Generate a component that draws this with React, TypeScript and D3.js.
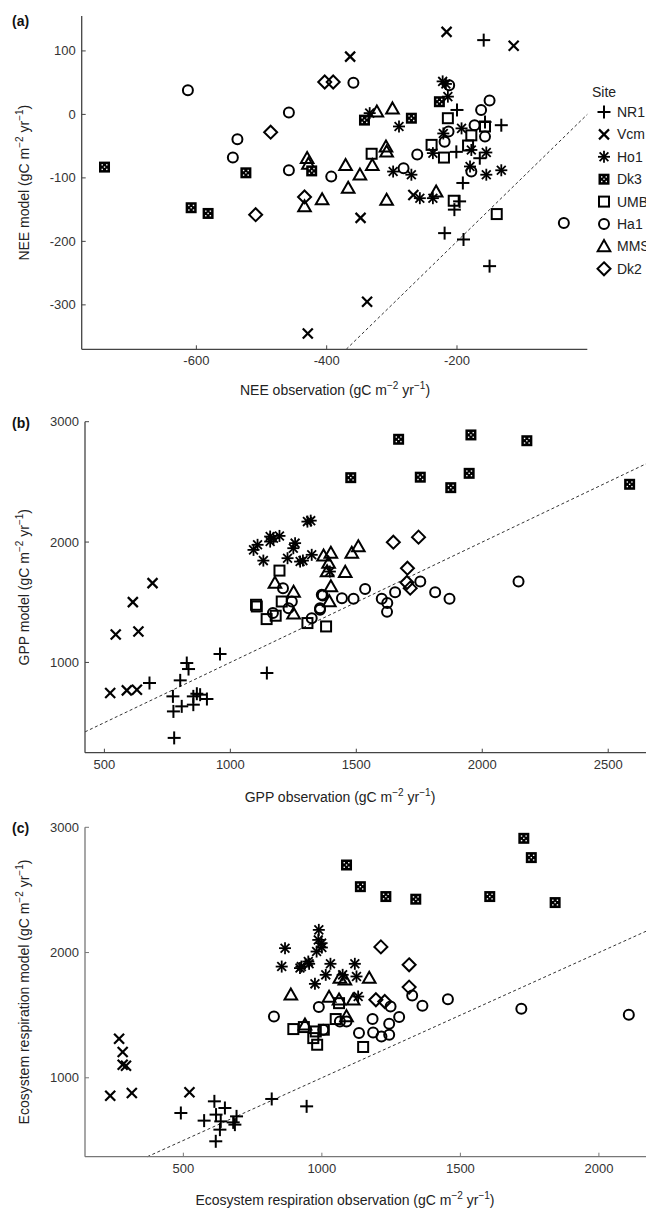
import React from "react";
import * as d3 from "d3";

// ---------- Sites ----------
const sites = ["NR1", "Vcm", "Ho1", "Dk3", "UMB", "Ha1", "MMS", "Dk2"];

// ---------- Panel (a): NEE [observation, model] ----------
const neeNR1 = [[-159, 117], [-132, -17], [-200, 7], [-157, -12], [-201, -59], [-165, -69], [-191, -108], [-196, -137], [-204, -150], [-219, -187], [-190, -197], [-150, -239]];
const neeVcm = [[-216, 130], [-113, 108], [-364, 91], [-348, -163], [-338, -295], [-429, -345], [-267, -127]];
const neeHo1 = [[-222, 52], [-217, 48], [-214, 28], [-334, 2], [-289, -19], [-221, -30], [-193, -22], [-237, -61], [-178, -56], [-155, -60], [-180, -82], [-155, -95], [-132, -88], [-298, -90], [-270, -95], [-257, -132], [-237, -132]];
const neeDk3 = [[-741, -83], [-524, -92], [-423, -89], [-608, -147], [-582, -156], [-342, -9], [-270, -6], [-227, 20]];
const neeUMB = [[-214, -6], [-331, -62], [-239, -48], [-220, -68], [-178, -33], [-157, -19], [-183, -49], [-205, -136], [-139, -157]];
const neeHa1 = [[-613, 38], [-458, 3], [-537, -39], [-544, -68], [-458, -88], [-393, -98], [-359, 50], [-212, 46], [-150, 22], [-163, 7], [-173, -17], [-157, -35], [-219, -43], [-213, -27], [-261, -63], [-282, -85], [-178, -90], [-36, -171]];
const neeMMS = [[-323, 4], [-299, 9], [-309, -51], [-308, -59], [-430, -69], [-428, -78], [-371, -80], [-330, -80], [-349, -95], [-367, -116], [-407, -134], [-434, -145], [-308, -135], [-232, -122]];
const neeDk2 = [[-403, 51], [-390, 51], [-486, -28], [-509, -158], [-434, -130]];

// ---------- Panel (b): GPP ----------
const gppNR1 = [[777, 373], [827, 995], [834, 945], [959, 1070], [679, 829], [801, 851], [772, 718], [774, 593], [807, 635], [853, 649], [867, 740], [880, 732], [907, 696], [853, 718], [1145, 912]];
const gppVcm = [[691, 1659], [613, 1501], [545, 1232], [635, 1257], [523, 746], [589, 768], [629, 773]];
const gppHo1 = [[1092, 1935], [1108, 1977], [1131, 1846], [1158, 2046], [1171, 2032], [1195, 2051], [1158, 2004], [1257, 1991], [1250, 1949], [1227, 1866], [1288, 1846], [1306, 2170], [1319, 2178], [1323, 1894], [1277, 1838], [1395, 1755]];
const gppDk3 = [[1668, 2854], [1955, 2890], [2177, 2842], [1478, 2535], [1754, 2539], [1948, 2571], [1875, 2452], [2585, 2480]];
const gppUMB = [[1195, 1763], [1102, 1479], [1105, 1465], [1204, 1506], [1144, 1360], [1180, 1388], [1306, 1327], [1380, 1299]];
const gppHa1 = [[2144, 1672], [1870, 1529], [1813, 1584], [1754, 1672], [1654, 1584], [1601, 1529], [1623, 1493], [1535, 1611], [1489, 1529], [1443, 1534], [1367, 1556], [1356, 1451], [1622, 1420], [1209, 1617], [1244, 1506], [1363, 1562], [1169, 1410], [1231, 1451], [1323, 1368], [1356, 1437]];
const gppMMS = [[1177, 1659], [1251, 1584], [1370, 1886], [1399, 1908], [1390, 1825], [1384, 1755], [1456, 1750], [1482, 1908], [1508, 1963], [1399, 1631], [1393, 1506], [1251, 1404]];
const gppDk2 = [[1647, 1999], [1747, 2041], [1703, 1783], [1701, 1664], [1714, 1617]];

// ---------- Panel (c): Ecosystem respiration ----------
const reNR1 = [[491, 719], [612, 812], [650, 759], [575, 658], [618, 706], [635, 652], [632, 586], [617, 493], [680, 644], [692, 692], [686, 626], [819, 831], [945, 772]];
const reVcm = [[268, 1312], [281, 1206], [281, 1104], [293, 1096], [236, 857], [314, 879], [522, 884]];
const reHo1 = [[867, 2035], [989, 2181], [987, 2101], [999, 2075], [981, 2008], [951, 1928], [926, 1888], [855, 1888], [921, 1876], [954, 1910], [1031, 1910], [1119, 1910], [975, 1750], [1014, 1822], [1075, 1822], [1125, 1809], [1131, 1649], [1000, 2040]];
const reDk3 = [[1089, 2699], [1139, 2526], [1231, 2447], [1339, 2426], [1606, 2447], [1729, 2912], [1756, 2758], [1842, 2399]];
const reUMB = [[897, 1389], [978, 1370], [969, 1317], [983, 1264], [1007, 1384], [1050, 1469], [1062, 1596], [1149, 1246], [935, 1405]];
const reHa1 = [[827, 1490], [989, 1565], [1005, 1384], [1065, 1450], [1089, 1450], [1134, 1357], [1183, 1469], [1185, 1362], [1215, 1330], [1243, 1344], [1243, 1431], [1248, 1569], [1279, 1485], [1326, 1657], [1363, 1575], [1455, 1628], [1720, 1551], [2108, 1503]];
const reMMS = [[888, 1663], [1171, 1796], [1065, 1796], [1083, 1782], [1026, 1644], [1062, 1623], [939, 1423], [1089, 1490], [1113, 1623]];
const reDk2 = [[1213, 2045], [1315, 1902], [1315, 1724], [1195, 1623], [1227, 1609]];

// ---------- Tick values ----------
const neeXTicks = [-600, -400, -200];
const neeYTicks = [-300, -200, -100, 0, 100];
const gppXTicks = [500, 1000, 1500, 2000, 2500];
const gppYTicks = [1000, 2000, 3000];
const reXTicks = [500, 1000, 1500, 2000];
const reYTicks = [1000, 2000, 3000];

const FONT = "'Liberation Sans', Arial, Helvetica, sans-serif";

function Marker({ site, x, y }: { site: string; x: number; y: number }) {
  const sw = 2;
  switch (site) {
    case "NR1": {
      const a = 6.5;
      return (
        <g stroke="#000" strokeWidth={sw}>
          <line x1={x - a} y1={y} x2={x + a} y2={y} />
          <line x1={x} y1={y - a} x2={x} y2={y + a} />
        </g>
      );
    }
    case "Vcm": {
      const a = 5;
      return (
        <g stroke="#000" strokeWidth={2.2}>
          <line x1={x - a} y1={y - a} x2={x + a} y2={y + a} />
          <line x1={x - a} y1={y + a} x2={x + a} y2={y - a} />
        </g>
      );
    }
    case "Ho1": {
      const a = 6, b = 4.4;
      return (
        <g stroke="#000" strokeWidth={1.8}>
          <line x1={x} y1={y - a} x2={x} y2={y + a} />
          <line x1={x - a} y1={y} x2={x + a} y2={y} />
          <line x1={x - b} y1={y - b} x2={x + b} y2={y + b} />
          <line x1={x - b} y1={y + b} x2={x + b} y2={y - b} />
        </g>
      );
    }
    case "Dk3": {
      const h = 5.5;
      const o = 2.3;
      return (
        <g>
          <rect x={x - h} y={y - h} width={2 * h} height={2 * h} fill="#000" />
          {[[-o, -o], [o, -o], [-o, o], [o, o], [0, 0]].map((p, i) => (
            <rect key={i} x={x + p[0] - 0.7} y={y + p[1] - 0.7} width={1.4} height={1.4} fill="#fff" />
          ))}
        </g>
      );
    }
    case "UMB": {
      const h = 5;
      return <rect x={x - h} y={y - h} width={2 * h} height={2 * h} fill="none" stroke="#000" strokeWidth={sw} />;
    }
    case "Ha1":
      return <circle cx={x} cy={y} r={5} fill="none" stroke="#000" strokeWidth={sw} />;
    case "MMS": {
      const s = 6.3;
      return (
        <path
          d={`M${x},${y - s} L${x + s},${y + s * 0.75} L${x - s},${y + s * 0.75} Z`}
          fill="none"
          stroke="#000"
          strokeWidth={sw}
          strokeLinejoin="miter"
        />
      );
    }
    case "Dk2": {
      const s = 6.5;
      return (
        <path
          d={`M${x},${y - s} L${x + s},${y} L${x},${y + s} L${x - s},${y} Z`}
          fill="none"
          stroke="#000"
          strokeWidth={sw}
        />
      );
    }
  }
  return null;
}

function Units() {
  return (
    <>
      <tspan>(gC m</tspan>
      <tspan dy={-6} fontSize={10}>−2</tspan>
      <tspan dy={6}> yr</tspan>
      <tspan dy={-6} fontSize={10}>−1</tspan>
      <tspan dy={6}>)</tspan>
    </>
  );
}

type PanelProps = {
  label: string;
  xDomain: [number, number];
  xRange: [number, number];
  yDomain: [number, number];
  yRange: [number, number];
  xTicks: number[];
  yTicks: number[];
  series: { site: string; data: number[][] }[];
  xTitle: string;
  yTitle: string;
  xTitleY: number;
  xTitleX: number;
  axisColor: string;
  labelY: number;
};

function Panel(p: PanelProps) {
  const x = d3.scaleLinear().domain(p.xDomain).range(p.xRange);
  const y = d3.scaleLinear().domain(p.yDomain).range(p.yRange);
  const x0 = p.xRange[0];
  const yb = p.yRange[0];
  const lo = Math.max(p.xDomain[0], p.yDomain[0]);
  const hi = Math.min(p.xDomain[1], p.yDomain[1]);
  const tick = 4;
  const yMid = (p.yRange[0] + p.yRange[1]) / 2;
  return (
    <g fontFamily={FONT}>
      <text x={12} y={p.labelY} fontSize={14} fontWeight="bold" fill="#111">{p.label}</text>
      {/* 1:1 line */}
      <line x1={x(lo)} y1={y(lo)} x2={x(hi)} y2={y(hi)} stroke="#333" strokeWidth={1} strokeDasharray="3,2.5" />
      {/* axes */}
      <line x1={x0} y1={p.yRange[1]} x2={x0} y2={yb} stroke={p.axisColor} strokeWidth={1.3} />
      <line x1={x0} y1={yb} x2={p.xRange[1]} y2={yb} stroke={p.axisColor} strokeWidth={1.3} />
      {p.yTicks.map((t) => (
        <g key={"y" + t}>
          <line x1={x0} y1={y(t)} x2={x0 + tick} y2={y(t)} stroke={p.axisColor} strokeWidth={1} />
          <text x={x0 - 6} y={y(t)} dy="0.35em" textAnchor="end" fontSize={13} fill="#333">{t}</text>
        </g>
      ))}
      {p.xTicks.map((t) => (
        <g key={"x" + t}>
          <line x1={x(t)} y1={yb} x2={x(t)} y2={yb - tick} stroke={p.axisColor} strokeWidth={1} />
          <text x={x(t)} y={yb + 16} textAnchor="middle" fontSize={13} fill="#333">{t}</text>
        </g>
      ))}
      <text x={p.xTitleX} y={p.xTitleY} textAnchor="middle" fontSize={14} fill="#222">
        <tspan>{p.xTitle} </tspan>
        <Units />
      </text>
      <text transform={`translate(29,${yMid}) rotate(-90)`} textAnchor="middle" fontSize={14} fill="#222">
        <tspan>{p.yTitle} </tspan>
        <Units />
      </text>
      {p.series.map((s) =>
        s.data.map((d, i) => <Marker key={s.site + i} site={s.site} x={x(d[0])} y={y(d[1])} />)
      )}
    </g>
  );
}

export default function App() {
  const neeSeries = [
    { site: "Dk2", data: neeDk2 },
    { site: "MMS", data: neeMMS },
    { site: "Ha1", data: neeHa1 },
    { site: "UMB", data: neeUMB },
    { site: "Dk3", data: neeDk3 },
    { site: "Ho1", data: neeHo1 },
    { site: "Vcm", data: neeVcm },
    { site: "NR1", data: neeNR1 },
  ];
  const gppSeries = [
    { site: "Dk2", data: gppDk2 },
    { site: "MMS", data: gppMMS },
    { site: "Ha1", data: gppHa1 },
    { site: "UMB", data: gppUMB },
    { site: "Dk3", data: gppDk3 },
    { site: "Ho1", data: gppHo1 },
    { site: "Vcm", data: gppVcm },
    { site: "NR1", data: gppNR1 },
  ];
  const reSeries = [
    { site: "Dk2", data: reDk2 },
    { site: "MMS", data: reMMS },
    { site: "Ha1", data: reHa1 },
    { site: "UMB", data: reUMB },
    { site: "Dk3", data: reDk3 },
    { site: "Ho1", data: reHo1 },
    { site: "Vcm", data: reVcm },
    { site: "NR1", data: reNR1 },
  ];
  return (
    <svg
      width={646}
      height={1210}
      style={{ position: "absolute", left: 0, top: 0, background: "#fff" }}
    >
      <rect width={646} height={1210} fill="#fff" />
      <Panel
        label="(a)"
        labelY={26}
        xDomain={[-776, 0]}
        xRange={[81.7, 587.3]}
        yDomain={[-370, 155]}
        yRange={[349.3, 16]}
        xTicks={neeXTicks}
        yTicks={neeYTicks}
        series={neeSeries}
        xTitle="NEE observation"
        yTitle="NEE model"
        xTitleX={335}
        xTitleY={395}
        axisColor="#444"
      />
      <Panel
        label="(b)"
        labelY={428}
        xDomain={[423, 2650]}
        xRange={[85, 646]}
        yDomain={[250, 3000]}
        yRange={[752.7, 421.7]}
        xTicks={gppXTicks}
        yTicks={gppYTicks}
        series={gppSeries}
        xTitle="GPP observation"
        yTitle="GPP model"
        xTitleX={340}
        xTitleY={802}
        axisColor="#444"
      />
      <Panel
        label="(c)"
        labelY={833}
        xDomain={[145, 2170]}
        xRange={[85, 646]}
        yDomain={[370, 3000]}
        yRange={[1156.7, 827.3]}
        xTicks={reXTicks}
        yTicks={reYTicks}
        series={reSeries}
        xTitle="Ecosystem respiration observation"
        yTitle="Ecosystem respiration model"
        xTitleX={345}
        xTitleY={1205}
        axisColor="#777"
      />
      {/* Legend */}
      <g fontFamily={FONT}>
        <text x={592} y={97} fontSize={14} fill="#222">Site</text>
        {sites.map((s, i) => (
          <g key={s}>
            <Marker site={s} x={604} y={112 + i * 22.4} />
            <text x={617} y={112 + i * 22.4} dy="0.35em" fontSize={14} fill="#222">{s}</text>
          </g>
        ))}
      </g>
    </svg>
  );
}
